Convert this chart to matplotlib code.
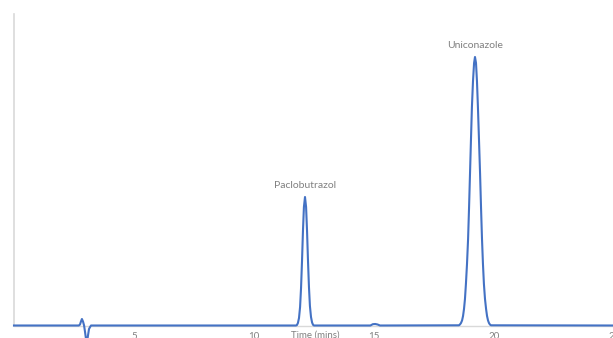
import matplotlib.pyplot as plt

# Chromatogram trace, baseline-corrected detector response vs retention time
# Injection disturbance
inj_time = [0.0, 2.70, 2.75, 2.79, 2.83, 2.875, 2.92, 2.96, 3.00, 3.04, 3.08, 3.125, 3.17, 3.21]
inj_resp = [0.5, 0.5, 1.5, 4.5, 7.0, 4.5, 0.5, -6.0, -13.0, -17.0, -10.0, -3.0, -1.0, 0.5]

# Paclobutrazol peak
pac_time = [11.75, 11.79, 11.83, 11.875, 11.92, 11.96, 12.00, 12.04, 12.08, 12.125,
            12.17, 12.21, 12.25, 12.29, 12.33, 12.375, 12.42, 12.46, 12.50]
pac_resp = [0.5, 1.0, 3.0, 8.0, 19.0, 38.0, 64.5, 95.0, 119.0, 129.0,
            119.0, 95.0, 65.0, 39.0, 20.0, 9.0, 3.5, 1.2, 0.5]

# Small bump around 15 min
mid_time = [14.85, 14.95, 15.05, 15.15, 15.25]
mid_resp = [0.5, 1.8, 2.0, 1.5, 0.5]

# Uniconazole peak
uni_time = [18.54, 18.58, 18.625, 18.67, 18.71, 18.75, 18.79, 18.83, 18.875, 18.92,
            18.96, 19.00, 19.04, 19.08, 19.125, 19.17, 19.208, 19.25, 19.29,
            19.33, 19.375, 19.42, 19.46, 19.50, 19.54, 19.58, 19.625, 19.67,
            19.71, 19.75, 19.79, 19.83, 19.875]
uni_resp = [0.7, 1.5, 3.0, 5.6, 10.0, 17.0, 27.0, 42.0, 62.0, 87.0,
            118.0, 152.0, 186.0, 219.0, 245.0, 263.0, 269.0, 263.0, 245.0,
            219.0, 186.0, 152.0, 118.0, 87.0, 62.0, 42.0, 27.0, 17.0,
            10.0, 5.6, 3.0, 1.5, 0.7]
end_time = [25.0]
end_resp = [0.5]

peak_names = ["Paclobutrazol", "Uniconazole"]
peak_times = [12.125, 19.208]
peak_heights = [129.0, 269.0]

xticks = [5, 10, 15, 20, 25]

time = inj_time + pac_time + mid_time + uni_time + end_time
resp = inj_resp + pac_resp + mid_resp + uni_resp + end_resp

plt.rcParams['font.family'] = ['Lato', 'DejaVu Sans']

fig = plt.figure(figsize=(6.13, 3.38), dpi=100)
ax = fig.add_axes([14 / 613, 12 / 338, 600 / 613, 312 / 338])

ax.plot(time, resp, color="#4472C4", linewidth=1.5, clip_on=False, zorder=3)

# peak names just above each apex
for name, t, h in zip(peak_names, peak_times, peak_heights):
    ax.annotate(name, xy=(t, h), xytext=(0, 8), textcoords="offset points",
                ha="center", va="center", fontsize=7.5, color="#808080")

ax.set_xlim(0, 25)
ax.set_ylim(0, 312)
ax.set_xticks(xticks)
ax.set_xticklabels([str(v) for v in xticks])
ax.set_yticks([])
ax.tick_params(axis="x", length=0, pad=4, labelsize=7, labelcolor="#808080")
ax.set_xlabel("Time (mins)", fontsize=7, color="#808080", labelpad=0)
ax.xaxis.set_label_coords(0.503, -0.015)
ax.xaxis.label.set_va("top")

for side in ["top", "right"]:
    ax.spines[side].set_visible(False)
ax.spines["left"].set_color("#d9d9d9")
ax.spines["bottom"].set_color("#d9d9d9")
ax.spines["left"].set_linewidth(1.2)
ax.spines["bottom"].set_linewidth(1.0)

fig.savefig("out.png", dpi=100)
